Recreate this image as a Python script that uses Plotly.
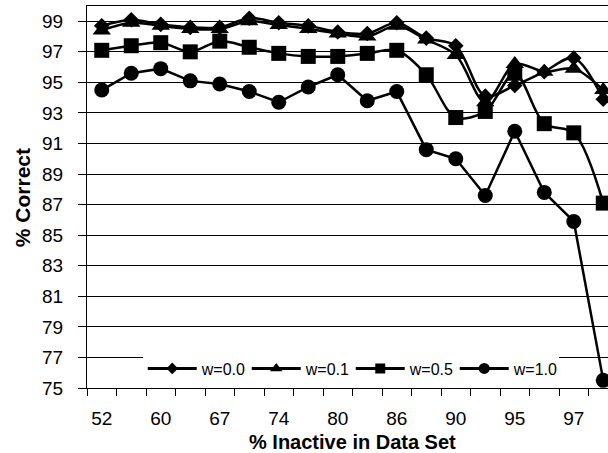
import plotly.graph_objects as go

# Data (18 data sets; only every other category is labeled on the axis)
x_idx = list(range(18))
x_tick_pos = [0, 2, 4, 6, 8, 10, 12, 14, 16]
x_tick_text = ["52", "60", "67", "74", "80", "86", "90", "95", "97"]

w00 = [98.7, 99.1, 98.8, 98.6, 98.6, 99.2, 98.9, 98.7, 98.3, 98.2, 98.9, 97.9, 97.4, 94.1, 94.8, 95.7, 96.6, 93.9]
w01 = [98.4, 98.9, 98.7, 98.5, 98.5, 99.0, 98.75, 98.5, 98.2, 98.0, 98.7, 97.8, 96.8, 93.7, 96.2, 95.7, 95.9, 94.5]
w05 = [97.1, 97.4, 97.6, 97.0, 97.7, 97.3, 96.9, 96.7, 96.7, 96.9, 97.1, 95.5, 92.7, 93.1, 95.6, 92.3, 91.7, 87.1]
w10 = [94.5, 95.6, 95.9, 95.1, 94.9, 94.4, 93.7, 94.7, 95.5, 93.8, 94.4, 90.6, 90.0, 87.6, 91.8, 87.8, 85.9, 75.5]

series_names = ["w=0.0", "w=0.1", "w=0.5", "w=1.0"]
series_vals = [w00, w01, w05, w10]
symbols = ["diamond", "triangle-up", "square", "circle"]
sizes = [12, 16, 15, 15]
legend_sizes = [9, 11, 10, 11]
shapes = ["spline", "spline", "spline", "linear"]

FONT = "Arial, Liberation Sans, sans-serif"

fig = go.Figure()
for name, vals, sym, sz, shp in zip(series_names, series_vals, symbols, sizes, shapes):
    fig.add_trace(go.Scatter(
        x=x_idx, y=vals, mode="lines+markers", name=name, showlegend=False,
        line=dict(color="black", width=2.5, shape=shp, smoothing=0.9),
        marker=dict(symbol=sym, size=sz, color="black"),
        cliponaxis=False, hoverinfo="skip",
    ))
for name, sym, lsz in zip(series_names, symbols, legend_sizes):
    fig.add_trace(go.Scatter(
        x=[None], y=[None], mode="lines+markers", name=name, showlegend=True,
        line=dict(color="black", width=3),
        marker=dict(symbol=sym, size=lsz, color="black"),
    ))

fig.update_layout(
    width=608, height=453,
    margin=dict(l=87, r=0, t=6, b=65),
    paper_bgcolor="white", plot_bgcolor="white",
    font=dict(family=FONT, color="black"),
    legend=dict(
        orientation="h", x=0.107, y=0.051, xanchor="left", yanchor="middle",
        bgcolor="white", borderwidth=0, font=dict(size=16, family=FONT),
        itemwidth=49, tracegroupgap=0, entrywidth=40, entrywidthmode="pixels",
    ),
    xaxis=dict(
        range=[-0.5, 17.16], tickmode="array", tickvals=x_tick_pos, ticktext=x_tick_text,
        ticks="", showgrid=False, zeroline=False,
        showline=True, linecolor="black", linewidth=1, mirror=True,
        tickfont=dict(size=19, family=FONT), ticklabelstandoff=13,
        minor=dict(tick0=-0.5, dtick=1, ticks="outside", ticklen=7, tickcolor="black", tickwidth=1, showgrid=False),
    ),
    yaxis=dict(
        range=[75, 100], tickmode="linear", tick0=75, dtick=2,
        ticks="outside", ticklen=8, tickcolor="black",
        showgrid=True, gridcolor="black", gridwidth=1, zeroline=False,
        showline=True, linecolor="black", linewidth=1,
        tickfont=dict(size=19, family=FONT), ticklabelstandoff=11,
    ),
    annotations=[
        dict(text="<b>% Inactive in Data Set</b>", xref="paper", yref="paper",
             x=0.509, y=-0.1405, xanchor="center", yanchor="middle", showarrow=False,
             font=dict(size=20, family=FONT)),
        dict(text="<b>% Correct</b>", xref="paper", yref="paper", textangle=-90,
             x=-0.124, y=0.498, xanchor="center", yanchor="middle", showarrow=False,
             font=dict(size=21, family=FONT)),
    ],
)

fig.write_html("out.html", config={"displayModeBar": False},
               post_script="document.body.style.margin='0px';document.body.style.padding='0px';")
